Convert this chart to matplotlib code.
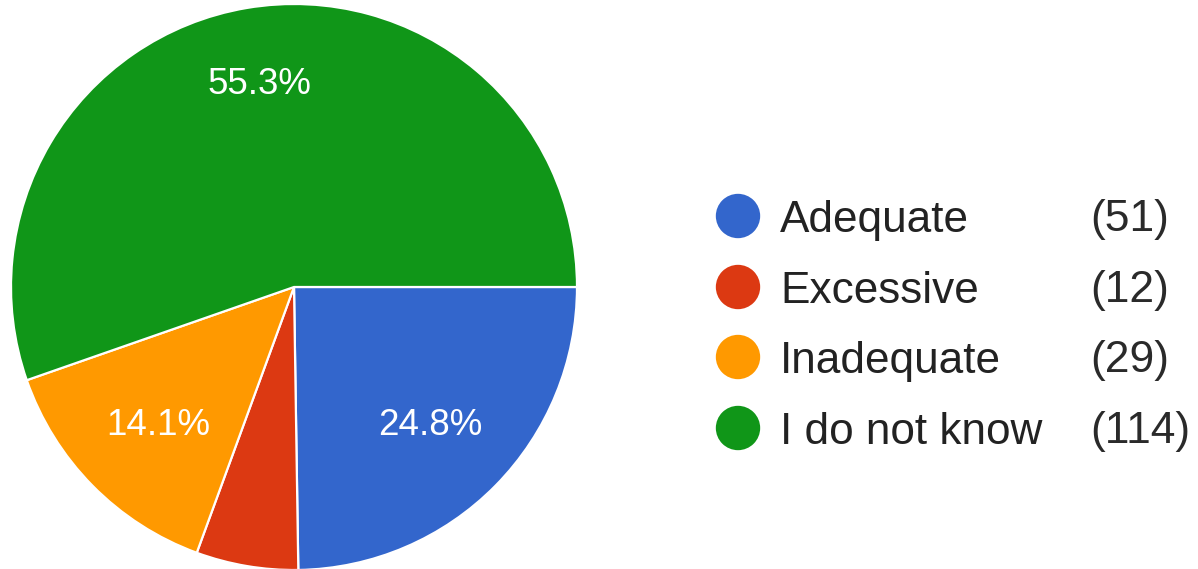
import numpy as np
import matplotlib.pyplot as plt

plt.rcParams['font.family'] = ['Liberation Sans', 'DejaVu Sans']

# data
labels = ['Adequate', 'Excessive', 'Inadequate', 'I do not know']
counts = [51, 12, 29, 114]
colors = ['#3366CC', '#DC3912', '#FF9900', '#109618']

W, H = 1198, 569
fig = plt.figure(figsize=(W / 100, H / 100), dpi=100)

# pie: center ~(294, 287) px, radius ~283 px
cx, cy, r = 294, 287, 283
ax = fig.add_axes([(cx - r) / W, (H - cy - r) / H, 2 * r / W, 2 * r / H])


def pct(p):
    return f'{p:.1f}%' if p > 8 else ''


wedges, texts, autotexts = ax.pie(
    counts, colors=colors, startangle=0, counterclock=False,
    autopct=pct, pctdistance=0.7, radius=1,
    wedgeprops=dict(edgecolor='white', linewidth=1.6),
    textprops=dict(color='white', fontsize=26.5))

# google-style label placement: big slice labels sit a bit further out
big = max(counts)
for w, t, n in zip(wedges, autotexts, counts):
    if not t.get_text():
        continue
    th = np.deg2rad((w.theta1 + w.theta2) / 2)
    d = 0.74 if n == big else 0.675
    t.set_position((d * np.cos(th), d * np.sin(th)))
    t.set_va('center_baseline')

ax.set_xlim(-1, 1)
ax.set_ylim(-1, 1)
ax.set_aspect('equal')
ax.axis('off')

# legend drawn in pixel coords
lax = fig.add_axes([0, 0, 1, 1])
lax.set_xlim(0, W)
lax.set_ylim(H, 0)
lax.axis('off')
rows = [216, 287, 357, 428]
for y, lab, n, c in zip(rows, labels, counts, colors):
    lax.scatter([738], [y], s=1020, color=c, edgecolors='none')
    lax.text(780, y + 16, lab, fontsize=31.8, color='#222222', va='baseline', ha='left')
    lax.text(1090, y + 15, f'({n})', fontsize=32, color='#2a2a2a', va='baseline', ha='left')

fig.savefig('out.png', dpi=100)
